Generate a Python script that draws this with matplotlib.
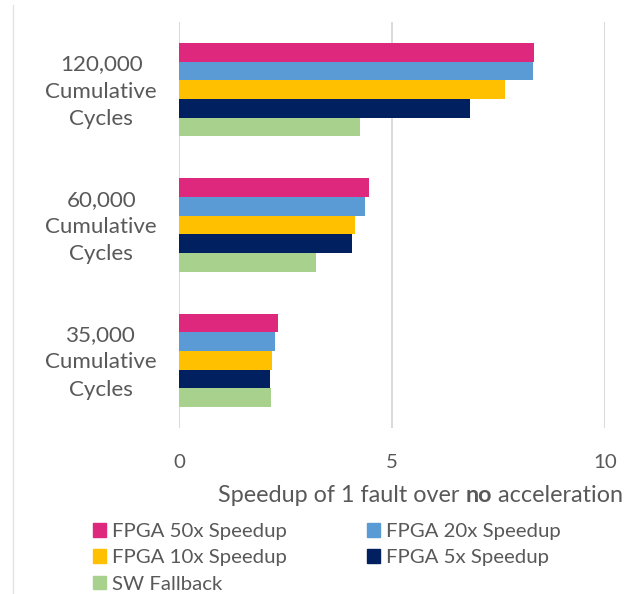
import matplotlib.pyplot as plt
from matplotlib.patches import Patch
from matplotlib.lines import Line2D
import numpy as np

plt.rcParams['font.family'] = ['Lato', 'DejaVu Sans']

categories = ["35,000\nCumulative\nCycles", "60,000\nCumulative\nCycles", "120,000\nCumulative\nCycles"]
series_names = ["FPGA 50x Speedup", "FPGA 20x Speedup", "FPGA 10x Speedup", "FPGA 5x Speedup", "SW Fallback"]
fpga50 = [2.32, 4.45, 8.33]
fpga20 = [2.26, 4.36, 8.32]
fpga10 = [2.19, 4.12, 7.65]
fpga5 = [2.14, 4.05, 6.82]
sw_fallback = [2.16, 3.22, 4.25]
colors = ["#DD287E", "#5B9BD5", "#FFC000", "#002060", "#A9D18E"]
text_col = "#595959"
grid_col = "#D9D9D9"
fs_small = 14.7
fs_big = 16.8
fs_ylab = 16.1

W, H = 635, 594
fig = plt.figure(figsize=(W / 100, H / 100), dpi=100)
ax = fig.add_axes([179 / W, 1 - 428 / H, (605 - 179) / W, (428 - 22) / H])

values = [fpga50, fpga20, fpga10, fpga5, sw_fallback]
y = np.arange(len(categories))
h = 0.138
for i, (vals, col) in enumerate(zip(values, colors)):
    ax.barh(y + (2 - i) * h, vals, height=h, color=col, zorder=3)

ax.set_xlim(0, 10)
ax.set_ylim(-0.5, 2.5)
for s in ax.spines.values():
    s.set_visible(False)
for xv in [0, 5, 10]:
    ax.axvline(xv, color=grid_col, lw=1.4, zorder=1)
ax.set_xticks([0, 5, 10])
ax.set_yticks([])
ax.tick_params(axis='x', length=0, pad=19, labelsize=fs_small, labelcolor=text_col)

# category labels, centred lines
for yi, lab in zip(y, categories):
    ax.annotate(lab, xy=(0, yi), xycoords=('axes fraction', 'data'),
                xytext=(-15.8, -1.5), textcoords='offset points',
                ha='right', va='center', ma='center', linespacing=1.45,
                fontsize=fs_ylab, color=text_col, annotation_clip=False)

# x label with bold "no"
t1 = fig.text(218 / W, 1 - 495 / H, "Speedup of 1 fault over ", fontsize=fs_big,
              color=text_col, ha='left', va='center')
t2 = ax.annotate("no", xy=(1, 0), xycoords=t1, va='bottom', ha='left',
                 fontsize=fs_big, fontweight='bold', color=text_col, annotation_clip=False)
ax.annotate(" acceleration", xy=(1, 0), xycoords=t2, va='bottom', ha='left',
            fontsize=fs_big, color=text_col, annotation_clip=False)

handles = [Patch(color=c, label=n) for c, n in zip(colors, series_names)]
order = [0, 2, 4, 1, 3]
fig.legend([handles[k] for k in order], [series_names[k] for k in order],
           ncol=2, loc='upper left', bbox_to_anchor=(93 / W, 1 - 523 / H),
           frameon=False, fontsize=fs_small, labelcolor=text_col,
           borderpad=0, borderaxespad=0,
           handlelength=0.64, handleheight=0.64, handletextpad=0.3,
           columnspacing=3.9, labelspacing=0.46)

# faint chart border on the left
fig.add_artist(Line2D([13 / W, 13 / W], [0, 1 - 5 / H], color="#E3E3E3", lw=1))

fig.savefig("out.png", dpi=100)
